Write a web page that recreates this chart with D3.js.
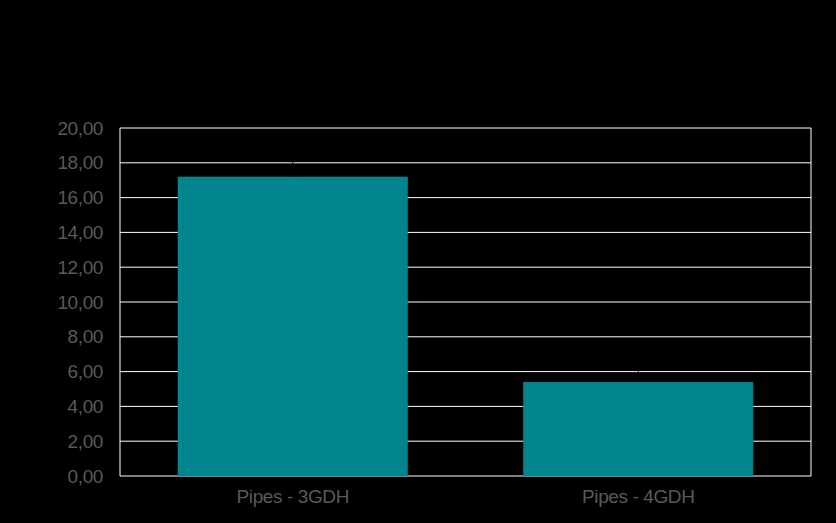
<!DOCTYPE html>
<html>
<head>
<meta charset="utf-8">
<script src="https://cdn.jsdelivr.net/npm/d3@7"></script>
<style>
  body { margin: 0; background: #000; }
  svg { display: block; }
</style>
</head>
<body>
<div class="canvas"></div>
<script>
// chart data
const categories = ['Pipes - 3GDH', 'Pipes - 4GDH'];
const values = [17.2, 5.4];
const errors = [0.9, 0.75];
const yTicks = [0, 2, 4, 6, 8, 10, 12, 14, 16, 18, 20];

const width = 836, height = 523;
const margin = {top: 128, right: 25, bottom: 47, left: 120};
const graphWidth = width - margin.left - margin.right;
const graphHeight = height - margin.top - margin.bottom;

const svg = d3.select('.canvas')
  .append('svg')
    .attr('width', width)
    .attr('height', height)
    .style('background', '#000');

const graph = svg.append('g')
  .attr('transform', `translate(${margin.left}, ${margin.top})`);

const y = d3.scaleLinear()
  .domain([0, 20])
  .range([graphHeight, 0]);

const x = d3.scaleBand()
  .domain(categories)
  .range([0, graphWidth])
  .paddingInner(0.334)
  .paddingOuter(0.167);

// gridlines
graph.selectAll('line.grid')
  .data(yTicks)
  .enter().append('line')
    .attr('class', 'grid')
    .attr('x1', 0).attr('x2', graphWidth)
    .attr('y1', d => y(d)).attr('y2', d => y(d))
    .attr('stroke', '#fff')
    .attr('stroke-width', 1);

// frame
graph.append('line')
  .attr('x1', 0).attr('x2', 0).attr('y1', 0).attr('y2', graphHeight)
  .attr('stroke', '#fff');
graph.append('line')
  .attr('x1', graphWidth).attr('x2', graphWidth).attr('y1', 0).attr('y2', graphHeight)
  .attr('stroke', '#fff');

// bars
graph.selectAll('rect.bar')
  .data(values)
  .enter().append('rect')
    .attr('class', 'bar')
    .attr('x', (d, i) => x(categories[i]))
    .attr('width', x.bandwidth())
    .attr('y', d => y(d))
    .attr('height', d => graphHeight - y(d))
    .attr('fill', '#00858F');

// error bars (black, only the plus side, barely visible)
graph.selectAll('line.err')
  .data(values)
  .enter().append('line')
    .attr('class', 'err')
    .attr('x1', (d, i) => x(categories[i]) + x.bandwidth() / 2)
    .attr('x2', (d, i) => x(categories[i]) + x.bandwidth() / 2)
    .attr('y1', d => y(d))
    .attr('y2', (d, i) => y(d + errors[i]))
    .attr('stroke', '#000')
    .attr('stroke-width', 1);

// y axis labels
const yAxis = d3.axisLeft(y)
  .tickValues(yTicks)
  .tickSize(0)
  .tickPadding(17)
  .tickFormat(d => d3.format('.2f')(d).replace('.', ','));
const yAxisGroup = graph.append('g').call(yAxis);
yAxisGroup.select('.domain').remove();
yAxisGroup.selectAll('text')
  .attr('fill', '#595959')
  .style('font-family', '"Liberation Sans", Arial, sans-serif')
  .style('font-size', '19px')
  .style('letter-spacing', '-0.4px');

// x axis labels
const xAxis = d3.axisBottom(x).tickSize(0).tickPadding(14);
const xAxisGroup = graph.append('g')
  .attr('transform', `translate(0, ${graphHeight})`)
  .call(xAxis);
xAxisGroup.select('.domain').remove();
xAxisGroup.selectAll('text')
  .attr('fill', '#595959')
  .style('font-family', '"Liberation Sans", Arial, sans-serif')
  .style('font-size', '19px')
  .style('letter-spacing', '-0.4px');
</script>
</body>
</html>
